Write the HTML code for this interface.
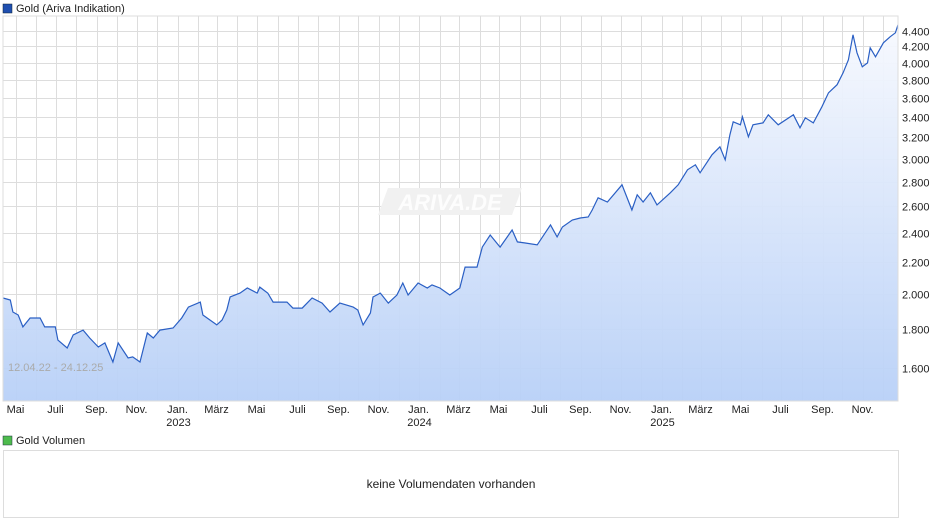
<!DOCTYPE html>
<html><head><meta charset="utf-8">
<style>
body{margin:0;background:#fff;font-family:"Liberation Sans",sans-serif;}
svg{display:block}
</style></head>
<body>
<svg id="chart" width="940" height="526" xmlns="http://www.w3.org/2000/svg">
<defs>
<linearGradient id="fillg" x1="0" y1="0" x2="0" y2="1">
<stop offset="0" stop-color="#f7f9fe"/><stop offset="1" stop-color="#b8d0f7"/>
</linearGradient>
</defs>
<rect x="3" y="4" width="9" height="9" fill="#1f4fb0" stroke="#123" stroke-width="0.5"/>
<text x="16" y="12" font-size="11" fill="#222">Gold (Ariva Indikation)</text>
<g id="grid"></g>
<g>
<path d="M388 188 L522 188 L512 215 L378 215 Z" fill="#f1f1f1"/>
<text x="450" y="210" font-size="22" font-style="italic" font-weight="bold" fill="#fff" fill-opacity="0.85" text-anchor="middle">ARIVA.DE</text>
</g>
<g id="series"></g>
<rect x="3" y="16" width="895" height="385" fill="none" stroke="#ddd"/>
<text x="8" y="371" font-size="11" fill="#aaa">12.04.22 - 24.12.25</text>
<g id="yaxis"></g>
<g id="xaxis"></g>
<rect x="3" y="436" width="9" height="9" fill="#4dbb4d" stroke="#234" stroke-width="0.5"/>
<text x="16" y="444" font-size="11" fill="#222">Gold Volumen</text>
<rect x="3.5" y="450.5" width="895" height="67" fill="#fff" stroke="#ddd"/>
<text x="451" y="488" font-size="12" fill="#222" text-anchor="middle">keine Volumendaten vorhanden</text>
</svg>
<script>
// days since 2022-04-12
const days=[0,11,15,23,30,41,56,63,79,83,97,106,121,131,144,154,166,174,189,196,207,218,227,237,257,270,280,298,302,323,331,338,343,358,369,384,388,400,408,429,438,452,467,482,494,509,529,536,544,555,559,570,582,595,604,612,627,641,648,660,675,690,698,706,716,724,736,751,769,777,789,807,827,837,845,860,872,884,890,899,913,935,950,958,967,978,988,1008,1020,1034,1046,1053,1071,1083,1091,1098,1103,1114,1117,1126,1133,1148,1156,1171,1194,1204,1212,1224,1237,1247,1260,1269,1277,1284,1290,1298,1306,1310,1318,1330,1340,1348,1352];
const prices=[1974,1962,1893,1876,1810,1859,1859,1810,1810,1740,1699,1767,1793,1751,1704,1725,1629,1725,1649,1654,1629,1777,1751,1793,1804,1859,1921,1950,1876,1821,1848,1904,1980,2003,2034,2003,2040,2003,1950,1950,1915,1915,1974,1944,1893,1944,1921,1904,1821,1887,1980,2003,1944,1992,2065,1992,2065,2034,2053,2034,1992,2034,2166,2166,2166,2300,2385,2300,2421,2336,2328,2315,2458,2371,2443,2495,2510,2517,2571,2667,2633,2773,2571,2691,2633,2707,2610,2707,2773,2900,2944,2874,3034,3108,2989,3222,3350,3320,3400,3202,3320,3339,3421,3320,3421,3290,3390,3339,3504,3654,3744,3880,4035,4349,4120,3951,3998,4183,4071,4246,4323,4376,4482];
const yTicks=[1600,1800,2000,2200,2400,2600,2800,3000,3200,3400,3600,3800,4000,4200,4400];
const monthLabels=["Jan.","März","Mai","Juli","Sep.","Nov."];
const NS="http://www.w3.org/2000/svg";
const X0=3,X1=898,Y0=16,Y1=401;
const start=Date.UTC(2022,3,12), end=Date.UTC(2025,11,24);
const totalDays=(end-start)/864e5;
function xs(d){return X0+d*(X1-X0)/totalDays;}
function ys(p){return 368-(Math.log(p)-Math.log(1600))*333.2;}
function el(t,a,parent){const e=document.createElementNS(NS,t);for(const k in a)e.setAttribute(k,a[k]);parent.appendChild(e);return e;}
const grid=document.getElementById('grid'),ya=document.getElementById('yaxis'),xa=document.getElementById('xaxis'),ser=document.getElementById('series');
yTicks.forEach(v=>{const y=Math.round(ys(v))+0.5;
 const l=el('line',{x1:X0,x2:X1,y1:y,y2:y,stroke:'#ddd'},grid);
 
 
 const t=el('text',{x:902,y:y+4,'font-size':11,fill:'#222'},ya);
 t.textContent=v.toLocaleString('de-DE').replace(',','.');
 
 
});
for(let y=2022;y<=2025;y++)for(let m=0;m<12;m++){
 const d=(Date.UTC(y,m,1)-start)/864e5; if(d<0||d>totalDays)continue;
 const x=Math.round(xs(d))+0.5;
 const l=el('line',{x1:x,x2:x,y1:Y0,y2:Y1,stroke:'#ddd'},grid);
 
 
 if(m%2===0){
  const t=el('text',{x:x-1,y:413,'font-size':11,fill:'#222','text-anchor':'middle'},xa);
  t.textContent=monthLabels[m/2];
  
  
  if(m===0){const t2=el('text',{x:x,y:426,'font-size':11,fill:'#222','text-anchor':'middle'},xa);
   t2.textContent=String(y);
   
   }
 }
}
let pts=days.map((d,i)=>xs(d).toFixed(1)+","+ys(prices[i]).toFixed(1));
const area=el('path',{d:"M"+pts.join(" L")+" L"+xs(days[days.length-1]).toFixed(1)+","+Y1+" L"+X0+","+Y1+" Z",fill:'url(#fillg)','fill-opacity':0.95},ser);


const line=el('polyline',{points:pts.join(" "),fill:'none',stroke:'#2a5fc4','stroke-width':1.2},ser);


</script>
</body></html>
